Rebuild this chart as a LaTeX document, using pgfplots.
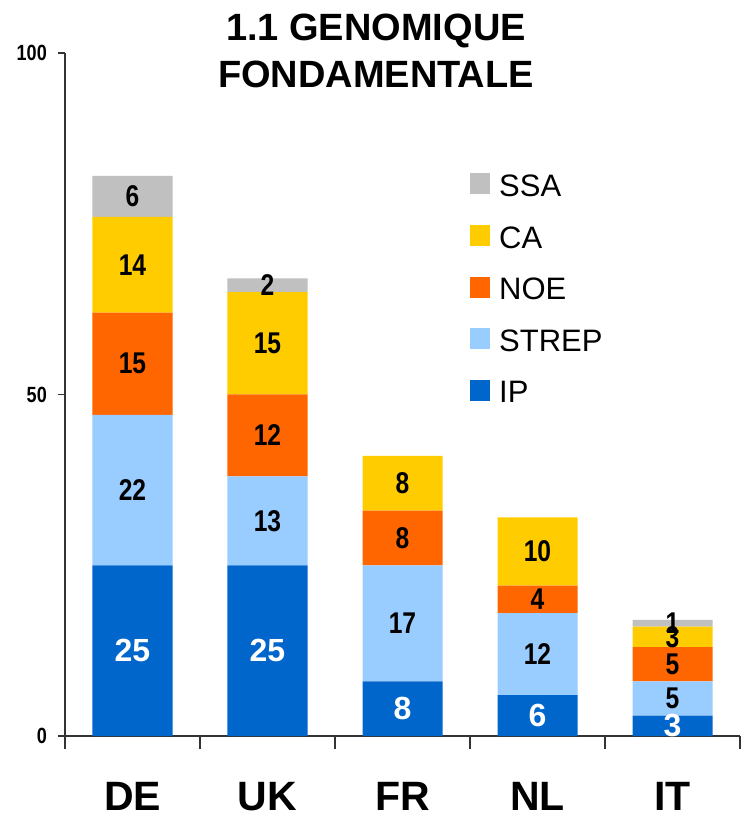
\documentclass[border=0pt]{standalone}
\usepackage{pgfplots}
\pgfplotsset{compat=1.18}
\usepackage{fontspec}
\setmainfont{Liberation Sans}
\newfontfamily\narrowfont{Liberation Sans}[FakeStretch=0.82]
\definecolor{cIP}{HTML}{0066CC}
\definecolor{cSTREP}{HTML}{99CCFF}
\definecolor{cNOE}{HTML}{FF6600}
\definecolor{cCA}{HTML}{FFCC00}
\definecolor{cSSA}{HTML}{C0C0C0}
\definecolor{axisgray}{HTML}{333333}
\pgfplotsset{
  mybar/.style={fill=#1, draw=none,
    legend image code/.code={\fill[fill=#1, draw=none] (0pt,-8pt) rectangle (20pt,13pt);}},
  lab/.style={only marks, mark=*, mark size=0pt, mark options={draw=none, fill=none},
    nodes near coords={\pgfplotspointmeta}, nodes near coords align=center,
    point meta=explicit symbolic},
}
\begin{document}
\begin{tikzpicture}
\begin{axis}[name=main,
  scale only axis, width=675pt, height=683pt,
  ybar stacked, bar width=80pt,
  xmin=-0.5, xmax=4.5, ymin=0, ymax=100,
  axis lines=left, axis line style={line width=1.8pt, axisgray, -},
  xtick={0,1,2,3,4}, xticklabels={DE,UK,FR,NL,IT},
  minor xtick={-0.5,0.5,1.5,2.5,3.5,4.5},
  major x tick style={draw=none},
  minor x tick style={line width=1.8pt, axisgray},
  minor tick length=13pt,
  tick align=outside,
  ytick={0,50,100}, yticklabels={0,50,100},
  major tick length=7pt,
  y tick style={line width=1.8pt, axisgray},
  /pgf/number format/assume math mode=true,
  xticklabel style={font=\bfseries\fontsize{41}{41}\selectfont, anchor=base, inner sep=0pt, yshift=-67pt},
  yticklabel style={font=\narrowfont\bfseries\fontsize{22}{22}\selectfont, anchor=east, inner sep=0pt, xshift=-11pt},
  legend style={at={(rel axis cs:0.6,0.824)}, anchor=north west, draw=none, fill=none,
    inner sep=0pt, row sep=27pt, column sep=9pt,
    font=\fontsize{31}{31}\selectfont, nodes={inner sep=0pt}},
  legend cell align=left,
  reverse legend,
]
\addplot[mybar=cIP] coordinates {(0,25) (1,25) (2,8) (3,6) (4,3)};
\addplot[mybar=cSTREP] coordinates {(0,22) (1,13) (2,17) (3,12) (4,5)};
\addplot[mybar=cNOE] coordinates {(0,15) (1,12) (2,8) (3,4) (4,5)};
\addplot[mybar=cCA] coordinates {(0,14) (1,15) (2,8) (3,10) (4,3)};
\addplot[mybar=cSSA] coordinates {(0,6) (1,2) (2,0) (3,0) (4,1)};
\legend{IP,STREP,NOE,CA,SSA}
\end{axis}
\begin{axis}[at={(main.south west)}, anchor=south west,
  scale only axis, width=675pt, height=683pt,
  xmin=-0.5, xmax=4.5, ymin=0, ymax=100, hide axis, clip=false]
\addplot[lab, every node near coord/.append style={text=white, font=\bfseries\fontsize{32}{32}\selectfont}]
  coordinates {(0,12.5)[25] (1,12.5)[25] (2,4)[8] (3,3)[6] (4,1.5)[3]};
\addplot[lab, every node near coord/.append style={text=black, font=\narrowfont\bfseries\fontsize{30}{30}\selectfont}]
  coordinates {(0,36)[22] (1,31.5)[13] (2,16.5)[17] (3,12)[12] (4,5.5)[5]
               (0,54.5)[15] (1,44)[12] (2,29)[8] (3,20)[4] (4,10.5)[5]
               (0,69)[14] (1,57.5)[15] (2,37)[8] (3,27)[10] (4,14.5)[3]
               (0,79)[6] (1,66)[2] (4,16.5)[1]};
\end{axis}
\path (main.north west) ++(311pt,39pt) node[anchor=north, inner sep=0pt, align=center,
  font=\bfseries\fontsize{38}{47}\selectfont] {1.1 GENOMIQUE\\FONDAMENTALE};
\path (main.south west) ++(-65pt,-81pt) coordinate (bl);
\path (main.north east) ++(8pt,53pt) coordinate (tr);
\path (bl) rectangle (tr);
\end{tikzpicture}
\end{document}
